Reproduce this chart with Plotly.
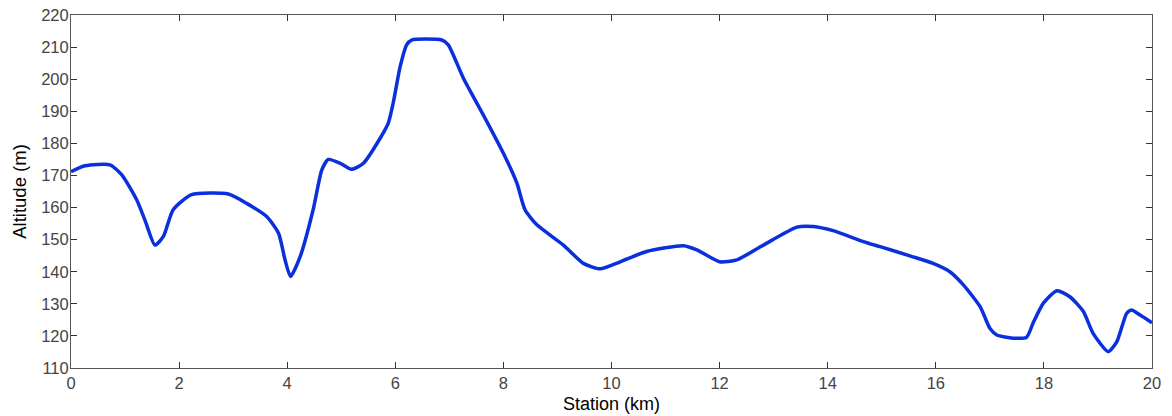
import plotly.graph_objects as go

station_km = [0.0, 0.26, 0.72, 0.94, 1.215, 1.37, 1.554, 1.71, 1.89, 2.23, 2.91, 3.25, 3.62, 3.84, 3.96,
              4.06, 4.24, 4.48, 4.64, 4.76, 4.98, 5.19, 5.41, 5.72, 5.87, 5.96, 6.09, 6.21, 6.30, 6.86,
              6.98, 7.26, 7.63, 8.0, 8.25, 8.40, 8.62, 9.11, 9.48, 9.79, 10.16, 10.65, 11.33, 11.58,
              12.0, 12.32, 12.81, 13.43, 13.73, 14.10, 14.66, 14.97, 15.55, 15.95, 16.26, 16.51, 16.82,
              17.0, 17.13, 17.43, 17.68, 17.8, 17.99, 18.24, 18.48, 18.73, 18.91, 19.19, 19.35, 19.53,
              19.62, 19.78, 20.0]
altitude_m = [171.2, 173.0, 173.3, 170.2, 162.4, 156.0, 148.3, 151.0, 159.3, 164.0, 164.2, 161.3, 157.2,
              152.0, 143.7, 138.5, 144.7, 159.3, 171.7, 175.0, 173.8, 171.9, 173.8, 181.6, 186.3, 192.5,
              203.9, 210.7, 212.2, 212.2, 210.7, 200.3, 188.8, 176.9, 167.6, 159.3, 154.6, 148.3, 142.6,
              140.9, 143.1, 146.3, 148.1, 146.8, 143.1, 143.7, 148.3, 153.9, 154.1, 152.8, 149.4, 147.8,
              144.8, 142.6, 140.0, 135.9, 129.1, 122.4, 120.3, 119.3, 119.6, 124.0, 130.2, 134.1, 132.2,
              127.6, 120.8, 115.1, 118.2, 127.0, 128.1, 126.5, 124.1]

x_ticks = [0, 2, 4, 6, 8, 10, 12, 14, 16, 18, 20]
y_ticks = [110, 120, 130, 140, 150, 160, 170, 180, 190, 200, 210, 220]

FONT = "Liberation Sans, Arial, sans-serif"

fig = go.Figure()
fig.add_trace(go.Scatter(x=station_km, y=altitude_m, mode="lines",
                         line=dict(color="#0a2fdc", width=3.5, shape="spline", smoothing=0.6),
                         showlegend=False, hoverinfo="skip"))

axis_common = dict(showgrid=False, zeroline=False, showline=True, linecolor="#555555", linewidth=1,
                   mirror="allticks", ticks="inside", ticklen=6, tickcolor="#333333",
                   automargin=False, ticklabeloverflow="allow",
                   tickfont=dict(family=FONT, size=16.5, color="#444444"))

fig.update_xaxes(range=[0, 20], tickvals=x_ticks, ticktext=[str(v) for v in x_ticks],
                 title=dict(text="Station (km)", font=dict(family=FONT, size=18, color="#000000"),
                            standoff=6), **axis_common)
fig.update_yaxes(range=[110, 220], tickvals=y_ticks, ticktext=[str(v) for v in y_ticks],
                 ticklabelstandoff=-2,
                 title=dict(text="Altitude (m)", font=dict(family=FONT, size=18.5, color="#000000"),
                            standoff=9), **axis_common)

fig.update_layout(width=1172, height=416, paper_bgcolor="white", plot_bgcolor="white",
                  margin=dict(l=71, r=20, t=15, b=48))

# remove the browser's default 8px body margin so the figure fills the window exactly
fig.write_html("out.html",
               config={"displayModeBar": False, "staticPlot": True},
               post_script="document.body.style.margin='0';document.body.style.overflow='hidden';")
